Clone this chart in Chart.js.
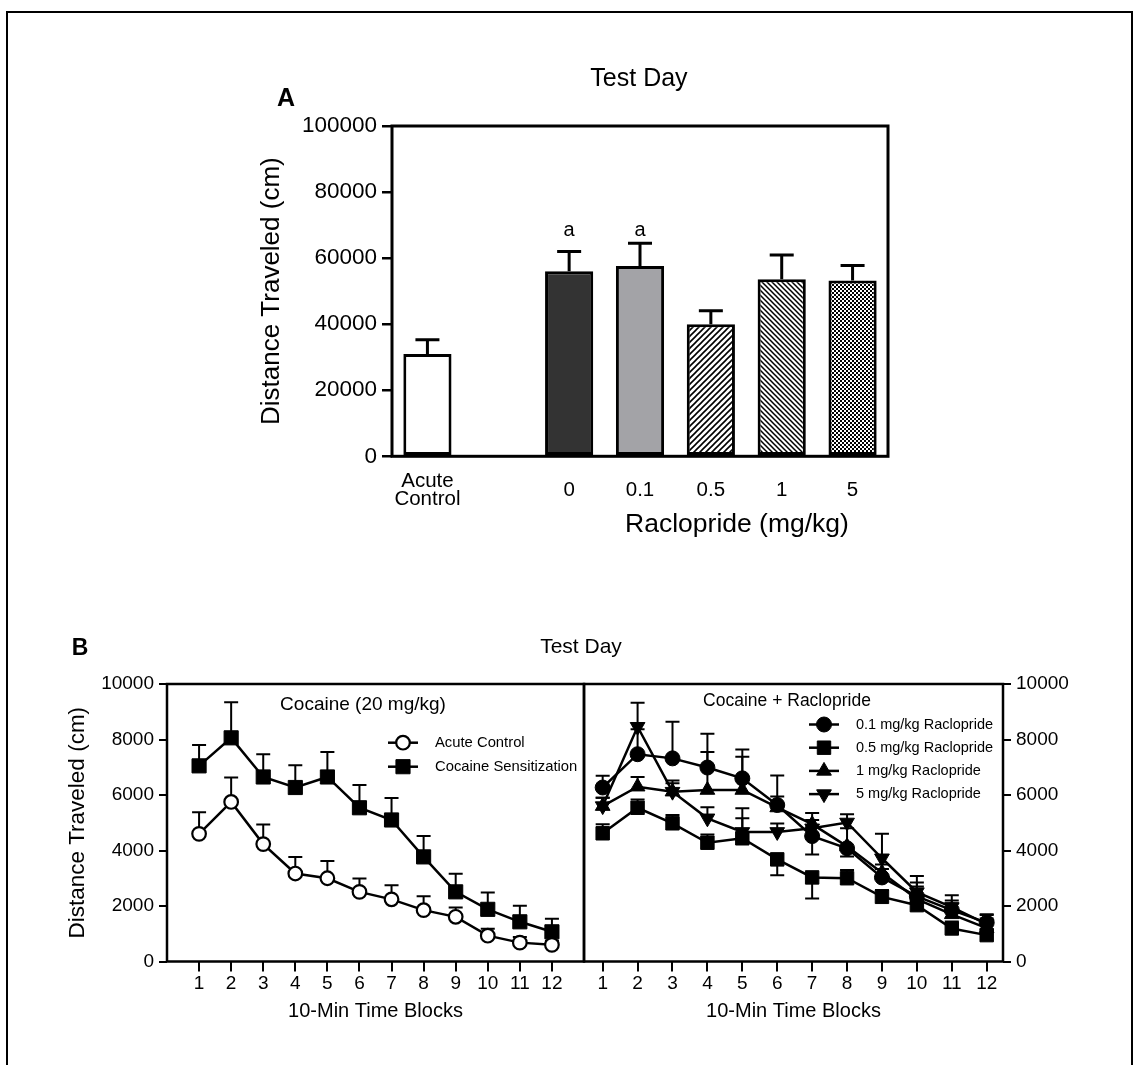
<!DOCTYPE html>
<html><head><meta charset="utf-8">
<script src="https://cdn.jsdelivr.net/npm/chart.js@4"></script>
<style>
html,body{margin:0;padding:0;background:#fff;width:1135px;height:1065px;overflow:hidden;position:relative;font-family:"Liberation Sans",Arial,Helvetica,sans-serif;}
.frame{position:absolute;left:6px;top:11px;width:1127px;height:1200px;box-sizing:border-box;border:2px solid #000;}
canvas{position:absolute;}
.t{position:absolute;transform:translate(-50%,-50%);white-space:nowrap;color:#000;line-height:1;}
</style></head><body>
<div class="frame"></div>
<canvas id="cA" width="1135" height="560" style="left:0;top:0"></canvas>
<canvas id="cBL" width="600" height="465" style="left:0;top:600px"></canvas>
<canvas id="cBR" width="575" height="465" style="left:560px;top:600px"></canvas>
<div class="t" style="left:639px;top:77px;font-size:25px">Test Day</div>
<div class="t" style="left:286px;top:97px;font-size:25px;font-weight:bold">A</div>
<div class="t" style="left:737px;top:523px;font-size:26.5px">Raclopride (mg/kg)</div>
<div class="t" style="left:80px;top:647px;font-size:23px;font-weight:bold">B</div>
<div class="t" style="left:581px;top:645px;font-size:21px">Test Day</div>
<div class="t" style="left:363px;top:703px;font-size:19px">Cocaine (20 mg/kg)</div>
<div class="t" style="left:787px;top:701px;font-size:17.5px">Cocaine + Raclopride</div>
<script>
// ---------- Panel A data ----------
const barLabels = [['Acute', 'Control'], '', '0', '0.1', '0.5', '1', '5'];
const barValues = [31000, null, 56000, 57600, 40000, 53600, 53200];
const barErrors = [4250, null, 6000, 6900, 4050, 7350, 4550];
const barSig = ['', '', 'a', 'a', '', '', ''];
const sigLevel = 68500;
const yTicksA = [0, 20000, 40000, 60000, 80000, 100000];

// ---------- Panel B data ----------
const timeBlocks = [1, 2, 3, 4, 5, 6, 7, 8, 9, 10, 11, 12];
const yTicksB = [0, 2000, 4000, 6000, 8000, 10000];
const acuteControl = [4600, 5750, 4230, 3170, 3000, 2510, 2240, 1850, 1610, 930, 680, 600];
const acuteControlErr = [780, 880, 710, 600, 620, 480, 510, 500, 340, 250, 200, 150];
const cocaineSens = [7050, 8060, 6650, 6270, 6650, 5540, 5100, 3770, 2510, 1880, 1430, 1070];
const cocaineSensErr = [750, 1280, 820, 800, 900, 820, 790, 750, 650, 610, 580, 470];
// signed errors: negative = bar drawn below the mean
const raclo01 = [6270, 7470, 7320, 6990, 6600, 5640, 4520, 4080, 3030, 2350, 1850, 1400];
const raclo01Err = [420, 900, 1320, 1220, 1040, 1060, -660, -300, 300, 500, 350, 300];
const raclo05 = [4620, 5540, 4980, 4280, 4440, 3680, 3030, 3000, 2330, 2030, 1190, 950];
const raclo05Err = [330, 300, 300, 300, 720, -570, -760, 300, 250, 300, 250, 200];
const raclo1 = [5600, 6300, 6120, 6180, 6180, 5550, 4950, 4150, 3200, 2250, 1700, 1200];
const raclo1Err = [300, 350, 400, 1370, 1200, 400, 400, 650, 300, 450, 400, 350];
const raclo5 = [5600, 8460, 6120, 5160, 4670, 4670, 4800, 5010, 3720, 2500, 1960, 1350];
const raclo5Err = [300, 860, 300, 400, 850, 300, 300, 300, 880, 580, 430, 330];

const FONT = "'Liberation Sans', Arial, Helvetica, sans-serif";
Chart.defaults.font.family = FONT;
Chart.defaults.color = '#000';
Chart.defaults.animation = false;

// ---------- fill patterns ----------
function hatch(dir, step, lw) {
  const c = document.createElement('canvas'); c.width = step; c.height = step;
  const g = c.getContext('2d');
  g.fillStyle = '#fff'; g.fillRect(0, 0, step, step);
  g.strokeStyle = '#000'; g.lineWidth = lw; g.beginPath();
  if (dir > 0) {
    g.moveTo(-1, step + 1); g.lineTo(step + 1, -1);
    g.moveTo(-2, 2); g.lineTo(2, -2);
    g.moveTo(step - 2, step + 2); g.lineTo(step + 2, step - 2);
  } else {
    g.moveTo(-1, -1); g.lineTo(step + 1, step + 1);
    g.moveTo(step - 2, -2); g.lineTo(step + 2, 2);
    g.moveTo(-2, step - 2); g.lineTo(2, step + 2);
  }
  g.stroke();
  return document.getElementById('cA').getContext('2d').createPattern(c, 'repeat');
}
function checker(cell) {
  const c = document.createElement('canvas'); c.width = cell * 2; c.height = cell * 2;
  const g = c.getContext('2d');
  g.fillStyle = '#fff'; g.fillRect(0, 0, cell * 2, cell * 2);
  g.fillStyle = '#000'; g.fillRect(0, 0, cell, cell); g.fillRect(cell, cell, cell, cell);
  return document.getElementById('cA').getContext('2d').createPattern(c, 'repeat');
}

// ---------- plugins ----------
const boxPlugin = {
  id: 'box',
  afterDatasetsDraw(chart, args, o) {
    const a = chart.chartArea, ctx = chart.ctx;
    ctx.save(); ctx.strokeStyle = '#000'; ctx.lineWidth = o.width || 2.5;
    ctx.strokeRect(a.left, a.top, a.right - a.left, a.bottom - a.top);
    ctx.restore();
  }
};
const errorBarPlugin = {
  id: 'errorBars',
  beforeDatasetsDraw(chart, args, o) {
    const ctx = chart.ctx;
    chart.data.datasets.forEach((ds, i) => {
      if (!ds.errors) return;
      const meta = chart.getDatasetMeta(i);
      const ys = chart.scales[meta.yAxisID];
      ctx.save(); ctx.strokeStyle = '#000'; ctx.lineWidth = o.lineWidth;
      meta.data.forEach((el, j) => {
        const e = ds.errors[j];
        if (!e) return;
        const raw = ds.data[j];
        const v = (raw && typeof raw === 'object') ? raw.y : raw;
        if (v == null) return;
        const x = el.x, y0 = ys.getPixelForValue(v), y1 = ys.getPixelForValue(v + e);
        ctx.beginPath();
        ctx.moveTo(x, y0); ctx.lineTo(x, y1);
        ctx.moveTo(x - o.cap, y1); ctx.lineTo(x + o.cap, y1);
        ctx.stroke();
      });
      ctx.restore();
    });
  }
};
const sigPlugin = {
  id: 'sig',
  afterDatasetsDraw(chart, args, o) {
    const ctx = chart.ctx, ds = chart.data.datasets[0];
    const meta = chart.getDatasetMeta(0), ys = chart.scales.y;
    ctx.save(); ctx.fillStyle = '#000'; ctx.font = o.font;
    ctx.textAlign = 'center'; ctx.textBaseline = 'middle';
    meta.data.forEach((el, j) => {
      if (ds.sig[j]) ctx.fillText(ds.sig[j], el.x, ys.getPixelForValue(o.level));
    });
    ctx.restore();
  }
};
function drawMarker(ctx, style, r, rot, x, y) {
  ctx.beginPath();
  if (style === 'circle') {
    ctx.arc(x, y, r, 0, Math.PI * 2);
  } else if (style === 'rect') {
    const s = Math.SQRT1_2 * r; ctx.rect(x - s, y - s, 2 * s, 2 * s);
  } else if (style === 'triangle') {
    let a = (rot || 0) * Math.PI / 180;
    ctx.moveTo(x + Math.sin(a) * r, y - Math.cos(a) * r);
    a += 2 * Math.PI / 3; ctx.lineTo(x + Math.sin(a) * r, y - Math.cos(a) * r);
    a += 2 * Math.PI / 3; ctx.lineTo(x + Math.sin(a) * r, y - Math.cos(a) * r);
    ctx.closePath();
  }
  ctx.fill(); ctx.stroke();
}
const insideLegend = {
  id: 'insideLegend',
  afterDraw(chart, args, o) {
    const ctx = chart.ctx;
    chart.data.datasets.forEach((ds, i) => {
      const y = o.y + i * o.gap;
      ctx.save();
      ctx.strokeStyle = ds.borderColor; ctx.lineWidth = ds.borderWidth;
      ctx.beginPath(); ctx.moveTo(o.x - o.half, y); ctx.lineTo(o.x + o.half, y); ctx.stroke();
      ctx.fillStyle = ds.pointBackgroundColor; ctx.strokeStyle = ds.pointBorderColor;
      ctx.lineWidth = ds.pointBorderWidth;
      drawMarker(ctx, ds.pointStyle, ds.pointRadius, ds.pointRotation, o.x, y);
      ctx.fillStyle = '#000'; ctx.font = o.font; ctx.textAlign = 'left'; ctx.textBaseline = 'middle';
      ctx.fillText(ds.label, o.textX, y);
      ctx.restore();
    });
  }
};

// ---------- Panel A ----------
new Chart(document.getElementById('cA'), {
  type: 'bar',
  data: {
    labels: barLabels,
    datasets: [{
      data: barValues,
      errors: barErrors,
      sig: barSig,
      backgroundColor: ['#ffffff', '#ffffff', '#333333', '#a3a3a7', hatch(1, 6, 1.6), hatch(-1, 5, 1.5), checker(2)],
      borderColor: '#000', borderWidth: 3, borderSkipped: false,
      barPercentage: 0.68, categoryPercentage: 1.0
    }]
  },
  options: {
    responsive: false, animation: false,
    layout: { padding: { left: 252, right: 247, top: 126, bottom: 3.7 } },
    plugins: {
      legend: { display: false }, tooltip: { enabled: false },
      errorBars: { lineWidth: 3, cap: 12 },
      sig: { level: sigLevel, font: "20px " + FONT },
      box: { width: 3 }
    },
    scales: {
      x: {
        offset: true,
        grid: { display: false }, border: { display: false },
        ticks: { color: '#000', font: { size: 20.5, lineHeight: 0.88 }, padding: 17, crossAlign: 'center', maxRotation: 0, autoSkip: false },
        afterFit(s) { s.height = 100; }
      },
      y: {
        min: 0, max: 100000,
        afterBuildTicks(s) { s.ticks = yTicksA.map(v => ({ value: v })); },
        ticks: { color: '#000', font: { size: 22.5 }, padding: 5, callback: v => String(v) },
        grid: { drawOnChartArea: false, tickLength: 10, lineWidth: 2.5, color: '#000' },
        border: { display: false },
        title: { display: true, text: 'Distance Traveled (cm)', color: '#000', font: { size: 26 }, padding: { top: 4, bottom: 4 } },
        afterFit(s) { s.width = 140; }
      }
    }
  },
  plugins: [errorBarPlugin, sigPlugin, boxPlugin]
});

// ---------- Panel B helpers ----------
function pts(vals) { return timeBlocks.map((t, i) => ({ x: t, y: vals[i] })); }
function lineDs(label, vals, errs, style, r, fill, bw, rot) {
  return {
    label, data: pts(vals), errors: errs,
    borderColor: '#000', borderWidth: 2.5, tension: 0, fill: false,
    pointStyle: style, pointRadius: r, pointHoverRadius: r, pointRotation: rot || 0,
    pointBackgroundColor: fill, pointBorderColor: '#000', pointBorderWidth: bw, clip: false
  };
}
function xScale(min, max) {
  return {
    type: 'linear', min, max,
    afterBuildTicks(s) { s.ticks = timeBlocks.map(v => ({ value: v })); },
    ticks: { color: '#000', font: { size: 19 }, padding: 1, maxRotation: 0, autoSkip: false, callback: v => String(v) },
    grid: { drawOnChartArea: false, tickLength: 10, lineWidth: 2, color: '#000' },
    border: { display: false },
    title: { display: true, text: '10-Min Time Blocks', color: '#000', font: { size: 20 }, padding: { top: 0, bottom: 4 } },
    afterFit(s) { s.height = 66; }
  };
}
function yScale(pos, width, withTitle) {
  return {
    position: pos, min: 0, max: 10000,
    afterBuildTicks(s) { s.ticks = yTicksB.map(v => ({ value: v })); },
    ticks: { color: '#000', font: { size: 19 }, padding: 5, callback: v => String(v) },
    grid: { drawOnChartArea: false, tickLength: 8, lineWidth: 2, color: '#000' },
    border: { display: false },
    title: { display: withTitle, text: 'Distance Traveled (cm)', color: '#000', font: { size: 22.5 }, padding: { top: 4, bottom: 4 } },
    afterFit(s) { s.width = width; }
  };
}

// ---------- Panel B left ----------
new Chart(document.getElementById('cBL'), {
  type: 'line',
  data: {
    datasets: [
      lineDs('Acute Control', acuteControl, acuteControlErr, 'circle', 6.8, '#ffffff', 2.2),
      lineDs('Cocaine Sensitization', cocaineSens, cocaineSensErr, 'rect', 10, '#000000', 1)
    ]
  },
  options: {
    responsive: false, animation: false,
    layout: { padding: { left: 60, right: 16, top: 84, bottom: 37.5 } },
    plugins: {
      legend: { display: false }, tooltip: { enabled: false },
      errorBars: { lineWidth: 2, cap: 7 },
      box: { width: 2.5 },
      insideLegend: { x: 403, y: 142.7, gap: 24, half: 15, textX: 435, font: "14.8px " + FONT }
    },
    scales: { x: xScale(0, 13), y: yScale('left', 107, true) }
  },
  plugins: [errorBarPlugin, boxPlugin, insideLegend]
});

// ---------- Panel B right ----------
new Chart(document.getElementById('cBR'), {
  type: 'line',
  data: {
    datasets: [
      lineDs('0.1 mg/kg Raclopride', raclo01, raclo01Err, 'circle', 7.5, '#000000', 1),
      lineDs('0.5 mg/kg Raclopride', raclo05, raclo05Err, 'rect', 9.5, '#000000', 1),
      lineDs('1 mg/kg Raclopride', raclo1, raclo1Err, 'triangle', 8.5, '#000000', 1),
      lineDs('5 mg/kg Raclopride', raclo5, raclo5Err, 'triangle', 8.5, '#000000', 1, 180)
    ]
  },
  options: {
    responsive: false, animation: false,
    layout: { padding: { left: 24, right: 0, top: 84, bottom: 37.5 } },
    plugins: {
      legend: { display: false }, tooltip: { enabled: false },
      errorBars: { lineWidth: 2, cap: 7 },
      box: { width: 2.5 },
      insideLegend: { x: 264, y: 124.5, gap: 23.2, half: 15, textX: 296, font: "14.5px " + FONT }
    },
    scales: { x: xScale(0.465, 12.467), y: yScale('right', 132, false) }
  },
  plugins: [errorBarPlugin, boxPlugin, insideLegend]
});
</script>
</body></html>
